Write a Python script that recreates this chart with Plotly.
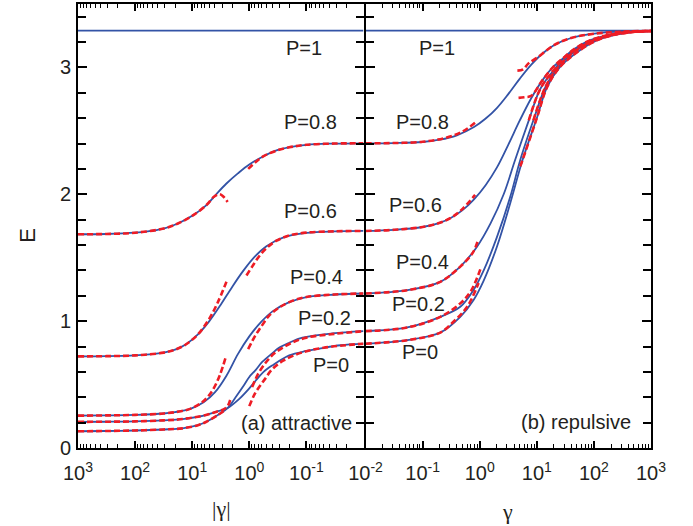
import plotly.graph_objects as go
from plotly.subplots import make_subplots

# ---------------- data ----------------
# x values are given as exponents lg = log10(|gamma|); E is the energy
# ----- (a) attractive, solid blue -----
a_p1_lg = [3, -2]
a_p1_E = [3.29, 3.29]
a_p08_lg = [3, 2.5, 2, 1.75, 1.5, 1.25, 1.0, 0.75, 0.58, 0.4, 0.2, 0.0, -0.25, -0.5, -1.0, -1.5, -2]
a_p08_E = [1.685, 1.687, 1.697, 1.71, 1.73, 1.77, 1.83, 1.915, 2.0, 2.085, 2.165, 2.235, 2.30, 2.35, 2.39, 2.40, 2.402]
a_p06_lg = [3, 2.5, 2, 1.75, 1.5, 1.3, 1.1, 0.9, 0.7, 0.5, 0.3, 0.1, -0.1, -0.3, -0.6, -1.0, -1.5, -2]
a_p06_E = [0.722, 0.724, 0.73, 0.738, 0.752, 0.775, 0.82, 0.895, 1.0, 1.13, 1.27, 1.40, 1.51, 1.59, 1.66, 1.695, 1.707, 1.711]
a_p04_lg = [3, 2.5, 2, 1.5, 1.2, 1.0, 0.8, 0.6, 0.4, 0.2, 0.0, -0.2, -0.4, -0.7, -1.0, -1.5, -2]
a_p04_E = [0.255, 0.257, 0.261, 0.272, 0.29, 0.315, 0.36, 0.44, 0.57, 0.74, 0.88, 0.99, 1.075, 1.15, 1.19, 1.21, 1.218]
a_p02_lg = [3, 2.5, 2, 1.5, 1.17, 0.9, 0.76, 0.55, 0.38, 0.24, 0.1, 0.0, -0.11, -0.23, -0.4, -0.52, -0.7, -0.93, -1.45, -2]
a_p02_E = [0.132, 0.134, 0.138, 0.146, 0.155, 0.18, 0.205, 0.26, 0.315, 0.40, 0.49, 0.56, 0.614, 0.68, 0.746, 0.79, 0.83, 0.87, 0.903, 0.921]
a_p0_lg = [3, 2.5, 2, 1.5, 1.17, 0.76, 0.55, 0.38, 0.18, 0.0, -0.11, -0.25, -0.4, -0.7, -1.0, -1.3, -1.6, -2]
a_p0_E = [0.206, 0.207, 0.21, 0.218, 0.228, 0.26, 0.29, 0.315, 0.385, 0.47, 0.53, 0.60, 0.65, 0.73, 0.765, 0.79, 0.81, 0.822]

# ----- (b) repulsive, solid blue -----
b_p1_lg = [-2, 3]
b_p1_E = [3.29, 3.29]
b_p08_lg = [-2, -1.5, -1, -0.7, -0.4, -0.1, 0.1, 0.3, 0.5, 0.7, 0.9, 1.1, 1.3, 1.6, 1.9, 2.2, 2.6, 3]
b_p08_E = [2.402, 2.404, 2.412, 2.43, 2.465, 2.53, 2.595, 2.68, 2.79, 2.91, 3.02, 3.11, 3.175, 3.232, 3.26, 3.276, 3.285, 3.288]
b_p06_lg = [-2, -1.5, -1, -0.7, -0.5, -0.3, -0.1, 0.1, 0.3, 0.5, 0.7, 0.9, 1.1, 1.3, 1.5, 1.8, 2.2, 2.6, 3]
b_p06_E = [1.711, 1.72, 1.742, 1.775, 1.815, 1.875, 1.96, 2.07, 2.21, 2.39, 2.58, 2.755, 2.90, 3.01, 3.085, 3.17, 3.24, 3.275, 3.287]
b_p04_lg = [-2, -1.27, -0.69, -0.34, -0.05, 0.19, 0.42, 0.62, 0.86, 1.06, 1.3, 1.55, 1.93, 2.4, 3]
b_p04_E = [1.218, 1.244, 1.31, 1.43, 1.585, 1.77, 2.0, 2.27, 2.583, 2.83, 2.98, 3.108, 3.213, 3.268, 3.286]
b_p02_lg = [-2, -1.27, -0.69, -0.34, -0.11, 0.07, 0.30, 0.535, 0.71, 0.94, 1.15, 1.35, 1.61, 1.99, 2.45, 3]
b_p02_E = [0.921, 0.95, 1.034, 1.113, 1.244, 1.40, 1.66, 1.98, 2.27, 2.583, 2.845, 2.99, 3.108, 3.213, 3.27, 3.287]
b_p0_lg = [-2, -1.27, -0.69, -0.34, -0.11, 0.07, 0.30, 0.535, 0.75, 1.0, 1.18, 1.4, 1.67, 2.05, 2.5, 3]
b_p0_E = [0.822, 0.85, 0.91, 1.034, 1.165, 1.32, 1.585, 1.93, 2.27, 2.6, 2.845, 3.0, 3.108, 3.213, 3.27, 3.288]

# ----- asymptotic expansions, dashed red -----
ra08s_lg = [3, 2.5, 2, 1.5, 1.25, 1.0, 0.75, 0.62, 0.52, 0.45, 0.38]
ra08s_E = [1.685, 1.687, 1.697, 1.73, 1.77, 1.83, 1.915, 1.98, 2.0, 1.98, 1.94]
ra08w_lg = [0.02, -0.1, -0.25, -0.45, -0.7, -1.0, -1.5, -2]
ra08w_E = [2.20, 2.25, 2.30, 2.34, 2.37, 2.39, 2.40, 2.402]
ra06s_lg = [3, 2.5, 2, 1.5, 1.3, 1.1, 0.9, 0.7, 0.55, 0.4]
ra06s_E = [0.722, 0.724, 0.73, 0.752, 0.775, 0.82, 0.895, 1.02, 1.15, 1.31]
ra06w_lg = [0.05, -0.05, -0.17, -0.3, -0.46, -0.7, -1.0, -1.5, -2]
ra06w_E = [1.36, 1.43, 1.51, 1.575, 1.63, 1.675, 1.698, 1.708, 1.711]
ra04s_lg = [3, 2.5, 2, 1.5, 1.2, 1.0, 0.8, 0.65, 0.52, 0.41]
ra04s_E = [0.255, 0.257, 0.261, 0.272, 0.29, 0.315, 0.37, 0.45, 0.57, 0.72]
ra04w_lg = [0.02, -0.11, -0.2, -0.34, -0.5, -0.7, -1.0, -1.5, -2]
ra04w_E = [0.78, 0.89, 0.95, 1.04, 1.10, 1.15, 1.19, 1.21, 1.218]
ra02s_lg = [3, 2.5, 2, 1.5, 1.17, 0.9, 0.76, 0.55, 0.42]
ra02s_E = [0.132, 0.134, 0.138, 0.146, 0.155, 0.18, 0.205, 0.26, 0.30]
ra02w_lg = [-0.05, -0.15, -0.3, -0.45, -0.7, -1.0, -1.5, -2]
ra02w_E = [0.48, 0.58, 0.68, 0.75, 0.82, 0.87, 0.90, 0.921]
ra0s_lg = [3, 2.5, 2, 1.5, 1.17, 0.76, 0.55, 0.45, 0.38, 0.32]
ra0s_E = [0.206, 0.207, 0.21, 0.218, 0.228, 0.26, 0.29, 0.305, 0.33, 0.40]
ra0w_lg = [0.0, -0.1, -0.26, -0.4, -0.6, -0.9, -1.3, -2]
ra0w_E = [0.33, 0.43, 0.535, 0.62, 0.69, 0.75, 0.79, 0.822]

rb08w_lg = [-2, -1.5, -1.0, -0.6, -0.3, -0.05]
rb08w_E = [2.402, 2.404, 2.414, 2.445, 2.495, 2.575]
rb08s_lg = [0.66, 0.76, 0.85, 1.0, 1.3, 1.6, 2.0, 2.5, 3]
rb08s_E = [2.975, 2.985, 3.03, 3.075, 3.175, 3.232, 3.265, 3.282, 3.288]
rb06w_lg = [-2, -1.5, -1.0, -0.7, -0.5, -0.3, -0.08]
rb06w_E = [1.711, 1.72, 1.742, 1.775, 1.815, 1.885, 1.995]
rb06s_lg = [0.68, 0.78, 0.9, 1.1, 1.3, 1.5, 1.8, 2.2, 2.6, 3]
rb06s_E = [2.76, 2.765, 2.775, 2.90, 3.01, 3.085, 3.17, 3.24, 3.275, 3.287]
rb04w_lg = [-2, -1.27, -0.69, -0.34, -0.12, -0.04]
rb04w_E = [1.218, 1.244, 1.31, 1.43, 1.54, 1.625]
rb04s_lg = [0.86, 1.06, 1.3, 1.55, 1.93, 2.4, 3]
rb04s_E = [2.583, 2.83, 2.98, 3.108, 3.213, 3.268, 3.286]
rb02w_lg = [-2, -1.27, -0.69, -0.34, -0.15, 0.02]
rb02w_E = [0.921, 0.95, 1.034, 1.14, 1.24, 1.42]
rb02s_lg = [0.94, 1.15, 1.35, 1.61, 1.99, 2.45, 3]
rb02s_E = [2.583, 2.845, 2.99, 3.108, 3.213, 3.27, 3.287]
rb0w_lg = [-2, -1.27, -0.69, -0.46, -0.22, -0.02]
rb0w_E = [0.822, 0.85, 0.91, 0.995, 1.113, 1.30]
rb0s_lg = [0.71, 0.75, 1.0, 1.18, 1.4, 1.67, 2.05, 2.5, 3]
rb0s_E = [2.22, 2.27, 2.6, 2.845, 3.0, 3.108, 3.213, 3.27, 3.288]

left_ticks = [1000, 100, 10, 1, 0.1]
left_ticktext = ["10<sup>3</sup>", "10<sup>2</sup>", "10<sup>1</sup>", "10<sup>0</sup>", "10<sup>-1</sup>"]
right_ticks = [0.01, 0.1, 1, 10, 100, 1000]
right_ticktext = ["10<sup>-2</sup>", "10<sup>-1</sup>", "10<sup>0</sup>", "10<sup>1</sup>", "10<sup>2</sup>", "10<sup>3</sup>"]
y_ticks = [0, 1, 2, 3]

BLUE = "#3353A6"
RED = "#EE1C25"
TXT = "#231F20"

fig = make_subplots(rows=1, cols=2, shared_yaxes=True, horizontal_spacing=0)


def g(lg):
    return [10 ** v for v in lg]


blue_left = [(a_p1_lg, a_p1_E), (a_p08_lg, a_p08_E), (a_p06_lg, a_p06_E),
             (a_p04_lg, a_p04_E), (a_p02_lg, a_p02_E), (a_p0_lg, a_p0_E)]
blue_right = [(b_p1_lg, b_p1_E), (b_p08_lg, b_p08_E), (b_p06_lg, b_p06_E),
              (b_p04_lg, b_p04_E), (b_p02_lg, b_p02_E), (b_p0_lg, b_p0_E)]
red_left = [(ra08s_lg, ra08s_E), (ra08w_lg, ra08w_E), (ra06s_lg, ra06s_E), (ra06w_lg, ra06w_E),
            (ra04s_lg, ra04s_E), (ra04w_lg, ra04w_E), (ra02s_lg, ra02s_E), (ra02w_lg, ra02w_E),
            (ra0s_lg, ra0s_E), (ra0w_lg, ra0w_E)]
red_right = [(rb08w_lg, rb08w_E), (rb08s_lg, rb08s_E), (rb06w_lg, rb06w_E), (rb06s_lg, rb06s_E),
             (rb04w_lg, rb04w_E), (rb04s_lg, rb04s_E), (rb02w_lg, rb02w_E), (rb02s_lg, rb02s_E),
             (rb0w_lg, rb0w_E), (rb0s_lg, rb0s_E)]

for col, curves in ((1, blue_left), (2, blue_right)):
    for lg, E in curves:
        fig.add_trace(go.Scatter(x=g(lg), y=E, mode="lines",
                                 line=dict(color=BLUE, width=1.8, shape="spline", smoothing=1.0),
                                 hoverinfo="skip"), row=1, col=col)
for col, curves in ((1, red_left), (2, red_right)):
    for lg, E in curves:
        fig.add_trace(go.Scatter(x=g(lg), y=E, mode="lines",
                                 line=dict(color=RED, width=2.6, dash="6px,3px", shape="spline", smoothing=1.0),
                                 hoverinfo="skip"), row=1, col=col)

axis_common = dict(showline=True, linecolor="black", linewidth=2, mirror="ticks", automargin=False,
                   ticks="inside", tickcolor="black", tickwidth=1.5, showgrid=False, zeroline=False)
half = 1.0 / 573

fig.update_xaxes(type="log", range=[3, -2], domain=[0, 0.5 - half], tickmode="array",
                 tickvals=left_ticks, ticktext=left_ticktext, ticklen=7,
                 minor=dict(ticks="inside", ticklen=4, tickcolor="black", tickwidth=1, dtick="D1", showgrid=False),
                 ticklabelstandoff=6, **axis_common, row=1, col=1)
fig.update_xaxes(type="log", range=[-2, 3], domain=[0.5 + half, 1], tickmode="array",
                 tickvals=right_ticks, ticktext=right_ticktext, ticklen=7,
                 minor=dict(ticks="inside", ticklen=4, tickcolor="black", tickwidth=1, dtick="D1", showgrid=False),
                 ticklabelstandoff=6, **axis_common, row=1, col=2)
fig.update_yaxes(range=[0, 3.5], tickmode="array", tickvals=y_ticks, ticklen=9,
                 minor=dict(ticks="inside", ticklen=8, tickcolor="black", tickwidth=1.5, dtick=0.2, tick0=0, showgrid=False),
                 ticklabelstandoff=1, **axis_common)

# axis titles
fig.add_annotation(x=-0.0873, y=0.48, xref="paper", yref="paper", text="E", textangle=-90,
                   showarrow=False, font=dict(size=22, color=TXT), xanchor="center", yanchor="middle")
fig.add_annotation(x=0.2496, y=-0.136, xref="paper", yref="paper", text="|γ|",
                   showarrow=False, font=dict(size=22, color=TXT, family="Liberation Serif, serif"),
                   xanchor="center", yanchor="middle")
fig.add_annotation(x=0.7504, y=-0.142, xref="paper", yref="paper", text="γ",
                   showarrow=False, font=dict(size=22, color=TXT, family="Liberation Serif, serif"),
                   xanchor="center", yanchor="middle")

ann = [
    ("x", -0.96, 3.157, "P=1"), ("x", -1.08, 2.567, "P=0.8"), ("x", -1.08, 1.866, "P=0.6"),
    ("x", -1.17, 1.349, "P=0.4"), ("x", -1.31, 1.024, "P=0.2"), ("x", -1.43, 0.654, "P=0"),
    ("x", -0.82, 0.197, "(a) attractive"),
    ("x2", -0.75, 3.15, "P=1"), ("x2", -1.01, 2.57, "P=0.8"), ("x2", -1.13, 1.913, "P=0.6"),
    ("x2", -1.01, 1.467, "P=0.4"), ("x2", -1.07, 1.139, "P=0.2"), ("x2", -1.04, 0.758, "P=0"),
    ("x2", 1.69, 0.207, "(b) repulsive"),
]
for xr, xv, yv, t in ann:
    fig.add_annotation(x=xv, y=yv, xref=xr, yref="y", text=t, showarrow=False,
                       font=dict(size=20, color=TXT), xanchor="center", yanchor="middle")

fig.update_layout(width=693, height=526, margin=dict(l=78, r=42, t=4, b=78, autoexpand=False),
                  plot_bgcolor="white", paper_bgcolor="white", showlegend=False,
                  font=dict(family="Liberation Sans, Arial, sans-serif", size=20, color=TXT))

fig.write_html("out.html", config={"displayModeBar": False},
               post_script="document.body.style.margin='0';document.body.style.overflow='hidden';")
